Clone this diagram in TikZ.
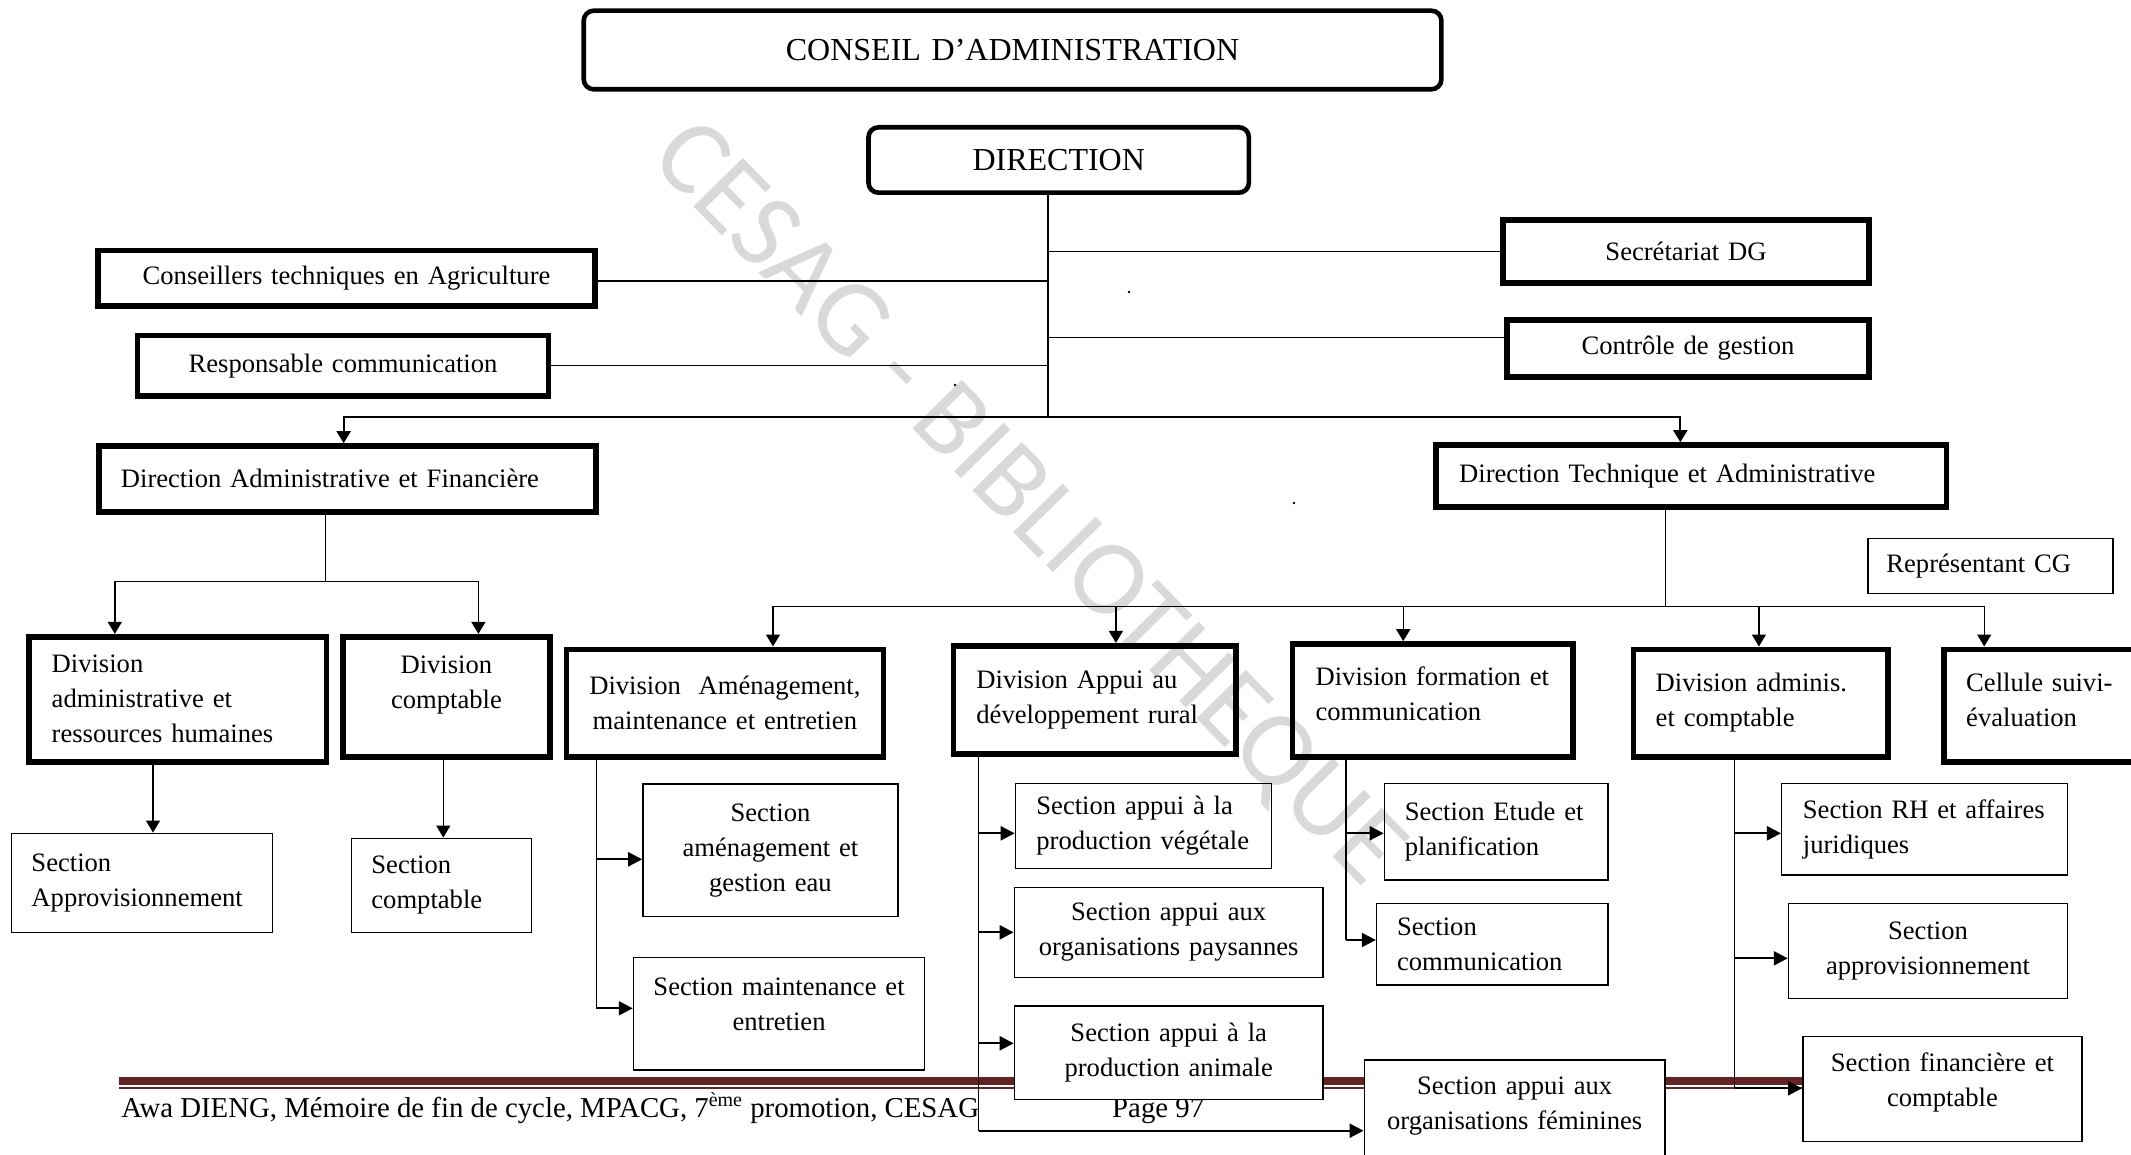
\documentclass[tikz,border=0pt]{standalone}
\usepackage{fontspec}
\setmainfont{Liberation Serif}
\newfontfamily\wmfont{Carlito}
\usetikzlibrary{arrows.meta}

% box labels are broken by hand only
\hyphenpenalty=10000
\exhyphenpenalty=10000

\definecolor{footred}{RGB}{99,36,35}
\definecolor{wmgray}{RGB}{217,217,217}

\tikzset{
  lbl/.style={font=\fontsize{13.3}{17.5}\selectfont},
  heavybox/.style={draw, line width=2.8pt, lbl, inner ysep=2pt},
  lightbox/.style={draw, line width=0.75pt, lbl, inner ysep=2pt},
  topbox/.style={draw, line width=2.3pt, rounded corners=5pt, inner ysep=2pt,
                 font=\fontsize{16}{19}\selectfont},
  lalign/.style={align=left},
  calign/.style={align=center},
  whitefill/.style={fill=white},
  lift/.style={execute at end node={\par\vspace*{#1}}},
  linkline/.style={line width=0.7pt},
  droparrow/.style={line width=0.7pt, -{Triangle[length=6pt,width=7pt]}},
  feedarrow/.style={line width=1.1pt, -{Triangle[length=7pt,width=7pt]}},
  foottext/.style={anchor=base west, inner sep=0pt, font=\fontsize{14.4}{17}\selectfont},
}

% #1 style, #2 horizontal inset (pt), #3 name, #4..#7 corners (x1,y1,x2,y2), #8 text
\newcommand\placebox[8]{%
  \pgfmathsetmacro\bxw{(#6-#4)*0.5}%
  \pgfmathsetmacro\bxh{(#7-#5)*0.5}%
  \pgfmathsetmacro\bxt{\bxw-2*#2}%
  \node[#1, minimum width=\bxw pt, minimum height=\bxh pt, inner xsep=#2pt,
        text width=\bxt pt] (#3) at ({(#4+#6)/2},{(#5+#7)/2}) {#8};}

\begin{document}
\begin{tikzpicture}[x=0.5pt, y=-0.5pt]
\useasboundingbox (0,0) rectangle (2131,1155);

% watermark
\node[rotate=-45.5, text=wmgray, inner sep=0pt,
      font=\wmfont\fontsize{54}{60}\selectfont] (wm) at (1026,505) {CESAG - BIBLIOTHEQUE};

% footer rule and text
\draw[footred, line width=4.2pt] (119.3,1081.2) -- (2000,1081.2);
\draw[footred, line width=0.7pt] (119.3,1088) -- (2000,1088);
\node[foottext] (foot) at (121,1117.3)
  {Awa DIENG, Mémoire de fin de cycle, MPACG, 7\textsuperscript{\fontsize{10}{12}\selectfont ème} promotion, CESAG};
\node[foottext] (page) at (1111.8,1117.3) {Page 97};

% stray dots
\fill (1129,292) circle (0.7pt);
\fill (955,385) circle (0.7pt);
\fill (1294,503) circle (0.7pt);

% top level
\placebox{topbox, calign}{10}{cons}{583.7}{10.7}{1441.4}{89.3}{CONSEIL D’ADMINISTRATION}
\placebox{topbox, calign}{10}{dir}{868.5}{127.3}{1248.9}{192.7}{DIRECTION}
\placebox{heavybox, calign}{10}{ctag}{98.2}{250.7}{594.9}{306}{Conseillers techniques en Agriculture}
\placebox{heavybox, calign}{10}{resp}{137.5}{335.3}{548.6}{396}{Responsable communication}
\placebox{heavybox, calign}{10}{secdg}{1502.7}{220}{1869.2}{283.3}{Secrétariat DG}
\placebox{heavybox, calign}{10}{ctrl}{1507}{320}{1869}{376.7}{Contrôle de gestion}
\placebox{heavybox, lalign}{11}{daf}{98.9}{446}{596}{511.7}{Direction Administrative et Financière}
\placebox{heavybox, lalign}{11.5}{dta}{1436.2}{445}{1946.5}{506.7}{Direction Technique et Administrative}
\placebox{lightbox, lalign}{9.2}{rep}{1868}{538.3}{2113}{593.3}{Représentant CG}

% divisions
\placebox{heavybox, lalign}{11.5}{divrh}{28.7}{636.7}{326.6}{761.7}{Division\\administrative~et\\ressources~humaines}
\placebox{heavybox, calign, lift=12pt}{8}{divcpt}{343}{636.7}{549.8}{756.7}{Division\\comptable}
\placebox{heavybox, calign}{6}{divam}{566.3}{649.3}{883.4}{756.7}{Division\ \ Aménagement,\\maintenance et entretien}
\placebox{heavybox, lalign}{11.5}{divap}{953.4}{645.7}{1236}{754}{Division~Appui~au\\développement~rural}
\placebox{heavybox, lalign, lift=7pt}{11.5}{divfo}{1292.6}{644}{1572.8}{756.7}{Division~formation~et\\communication}
\placebox{heavybox, lalign}{11.2}{divad}{1633.3}{649.3}{1887.7}{756.7}{Division~adminis.\\et~comptable}
\placebox{heavybox, lalign, lift=6pt}{11}{cell}{1944.2}{649.3}{2165}{761.7}{Cellule~suivi-\\évaluation}

% sections
\placebox{lightbox, lalign}{10}{secAP}{11.5}{833.3}{272.3}{932.7}{Section\\Approvisionnement}
\placebox{lightbox, lalign}{10}{secCP}{351.4}{838.3}{531.3}{932.7}{Section\\comptable}
\placebox{lightbox, calign}{8}{secAM}{642.9}{784}{898}{916.7}{Section\\aménagement et\\gestion eau}
\placebox{lightbox, calign, lift=10pt}{8}{secMT}{633.5}{957.7}{924.6}{1070}{Section maintenance et\\entretien}
\placebox{lightbox, lalign}{10.5}{secVG}{1015.4}{783.3}{1271.4}{868.3}{Section~appui~à~la\\production~végétale}
\placebox{lightbox, calign}{8}{secOP}{1014.4}{887.7}{1323}{977.3}{Section appui aux\\organisations paysannes}
\placebox{lightbox, calign, whitefill}{8}{secPA}{1014.4}{1006}{1323}{1099.3}{Section appui à la\\production animale}
\placebox{lightbox, calign, whitefill, lift=4pt}{8}{secOF}{1364.3}{1060}{1665}{1160}{Section appui aux\\organisations féminines}
\placebox{lightbox, lalign}{10.2}{secEP}{1384.4}{783.3}{1608.2}{880}{Section~Etude~et\\planification}
\placebox{lightbox, lalign}{10.2}{secCM}{1376.6}{903.3}{1608}{985}{Section\\communication}
\placebox{lightbox, lalign}{10.6}{secRH}{1781.7}{783.3}{2067.5}{875}{Section~RH~et~affaires\\juridiques}
\placebox{lightbox, calign}{8}{secAV}{1788.5}{903.3}{2067.5}{998.3}{Section\\approvisionnement}
\placebox{lightbox, calign, whitefill, lift=7pt}{8}{secFC}{1802.8}{1036.7}{2082}{1141.7}{Section financière et\\comptable}

% direction trunk and staff links
\coordinate (trunk) at (1048,416.7);
\draw[linkline] (trunk |- dir.south) -- (trunk);
\draw[linkline] ([yshift=-1.35pt]ctag.east) -- ([yshift=-1.35pt]ctag.east -| trunk);
\draw[linkline] (resp.east) -- (resp.east -| trunk);
\draw[linkline] (secdg.west) -- (secdg.west -| trunk);
\draw[linkline] ([yshift=5.5pt]ctrl.west) -- ([yshift=5.5pt]ctrl.west -| trunk);
\draw[droparrow, line width=1pt] (trunk) -| ([xshift=-1.9pt]daf.north);
\draw[droparrow, line width=1pt] (trunk) -| ([xshift=-5.5pt]dta.north);

% administrative and financial branch
\coordinate (dafJ) at (325.3,581.7);
\coordinate (xRH) at (114.8,0);
\coordinate (xCPd) at (478.4,0);
\draw[linkline] (dafJ |- daf.south) -- (dafJ);
\draw[droparrow] (dafJ) -| (xRH |- divrh.north);
\draw[droparrow] (dafJ) -| (xCPd |- divcpt.north);
\coordinate (xAP) at (153,0);
\coordinate (xCP) at (443.3,0);
\draw[droparrow] (xAP |- divrh.south) -- (xAP |- secAP.north);
\draw[droparrow] (xCP |- divcpt.south) -- (xCP |- secCP.north);

% technical branch
\coordinate (dtaJ) at (1665.5,606.7);
\coordinate (xAM) at (773,0);
\coordinate (xAPd) at (1115.9,0);
\coordinate (xFO) at (1403.2,0);
\coordinate (xAD) at (1758.9,0);
\coordinate (xCE) at (1984.2,0);
\draw[linkline] (dtaJ |- dta.south) -- (dtaJ);
\draw[droparrow] (dtaJ) -| (xAM |- divam.north);
\draw[droparrow] (dtaJ) -| (xAPd |- divap.north);
\draw[droparrow] (dtaJ) -| (xFO |- divfo.north);
\draw[droparrow] (dtaJ) -| (xAD |- divad.north);
\draw[droparrow] (dtaJ) -| (xCE |- cell.north);

% division feeders to sections
\coordinate (tAM1) at (596.3,859.3);
\coordinate (tAM2) at (596.3,1008.3);
\draw[linkline] (tAM2 |- divam.south) -- (tAM2);
\draw[feedarrow] (tAM1) -- (tAM1 -| secAM.west);
\draw[feedarrow] (tAM2) -- (tAM2 -| secMT.west);

\coordinate (tAP1) at (978.5,833.3);
\coordinate (tAP2) at (978.5,932.3);
\coordinate (tAP3) at (978.5,1043.3);
\coordinate (tAP4) at (978.5,1130.7);
\draw[linkline] (tAP4 |- divap.south) -- (tAP4);
\draw[feedarrow] (tAP1) -- (tAP1 -| secVG.west);
\draw[feedarrow] (tAP2) -- (tAP2 -| secOP.west);
\draw[feedarrow] (tAP3) -- (tAP3 -| secPA.west);
\draw[feedarrow] (tAP4) -- (tAP4 -| secOF.west);

\coordinate (tFO1) at (1345.9,833.3);
\coordinate (tFO2) at (1345.9,940);
\draw[linkline] (tFO2 |- divfo.south) -- (tFO2);
\draw[feedarrow] (tFO1) -- (tFO1 -| secEP.west);
\draw[feedarrow] (tFO2) -- (tFO2 -| secCM.west);

\coordinate (tAD1) at (1734.5,833.3);
\coordinate (tAD2) at (1734.5,958.3);
\coordinate (tAD3) at (1734.5,1088.3);
\draw[linkline] (tAD3 |- divad.south) -- (tAD3);
\draw[feedarrow] (tAD1) -- (tAD1 -| secRH.west);
\draw[feedarrow] (tAD2) -- (tAD2 -| secAV.west);
\draw[feedarrow] (tAD3) -- (tAD3 -| secFC.west);
\end{tikzpicture}
\end{document}
